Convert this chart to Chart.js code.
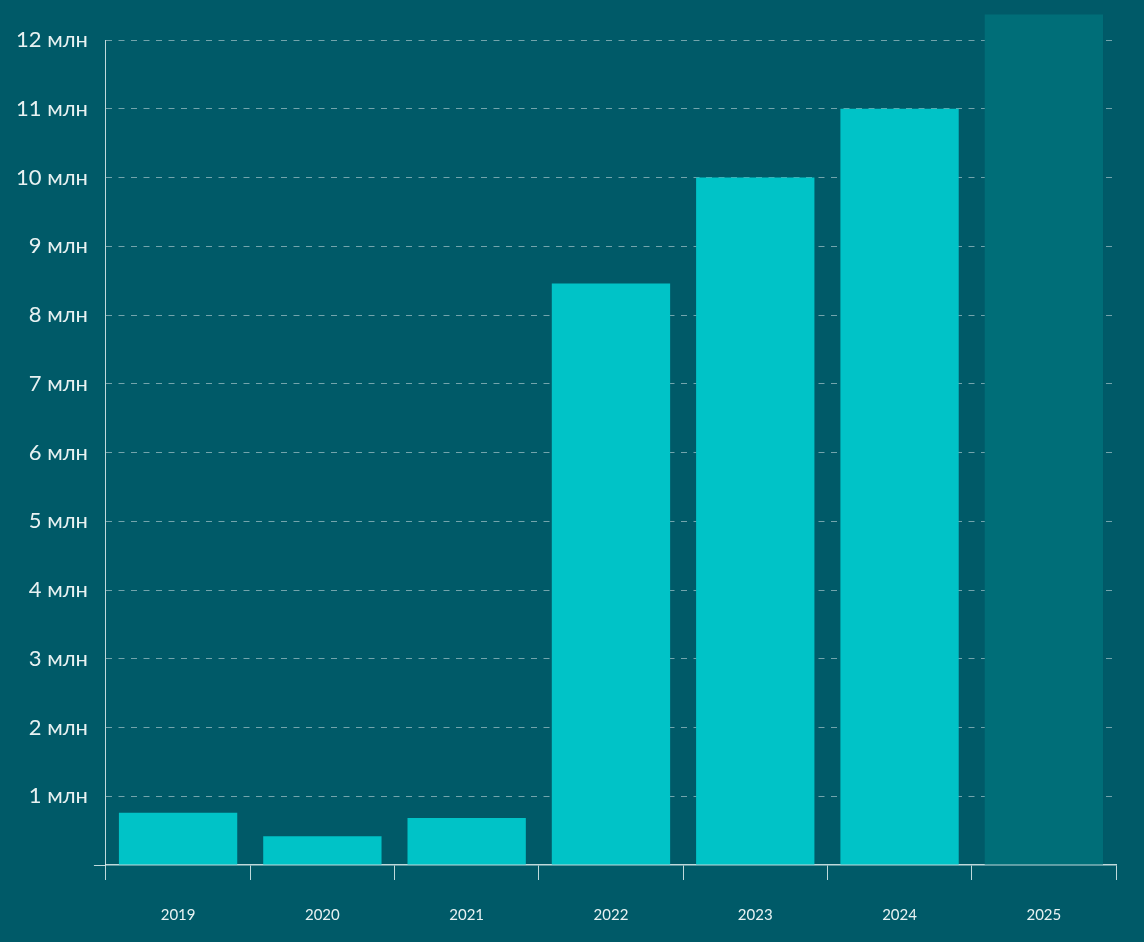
<!DOCTYPE html>
<html>
<head>
<meta charset="utf-8">
<script src="https://cdn.jsdelivr.net/npm/chart.js@4/dist/chart.umd.min.js"></script>
<style>
html,body{margin:0;padding:0;background:#005a68;}
#wrap{width:1144px;height:942px;position:relative;}
</style>
</head>
<body>
<div id="wrap"><canvas id="c" width="1144" height="942"></canvas></div>
<script>
const years = ['2019','2020','2021','2022','2023','2024','2025'];
const valuesMln = [0.76, 0.42, 0.685, 8.46, 10.0, 11.0, 12.37];
const barColors = ['#00c3c7','#00c3c7','#00c3c7','#00c3c7','#00c3c7','#00c3c7','#006e78'];
const yTickValues = [0,1,2,3,4,5,6,7,8,9,10,11,12];
const unit = ' млн';

const axisColor = 'rgba(225,240,240,0.85)';
const gridColor = 'rgba(255,255,255,0.45)';
const textColor = '#e8f2f2';

new Chart(document.getElementById('c'), {
  type: 'bar',
  data: {
    labels: years,
    datasets: [{
      data: valuesMln,
      backgroundColor: barColors,
      borderWidth: 0,
      barPercentage: 0.82,
      categoryPercentage: 1.0,
      clip: false
    }]
  },
  options: {
    responsive: false,
    animation: false,
    devicePixelRatio: 1,
    layout: { padding: { top: 40, right: 28, bottom: -8, left: 10 } },
    plugins: { legend: { display: false }, tooltip: { enabled: false } },
    scales: {
      x: {
        offset: true,
        grid: {
          offset: true,
          drawOnChartArea: false,
          drawTicks: true,
          tickLength: 15,
          tickColor: axisColor,
          color: axisColor
        },
        border: { display: true, color: axisColor, width: 1.5 },
        ticks: {
          color: textColor,
          font: { family: 'Lato', size: 15 },
          padding: 26
        }
      },
      y: {
        min: 0,
        max: 12,
        z: 1,
        afterBuildTicks: (scale) => { scale.ticks = yTickValues.map(v => ({ value: v })); },
        grid: {
          color: (ctx) => ctx.tick && ctx.tick.value === 0 ? 'transparent' : gridColor,
          tickColor: (ctx) => ctx.tick && ctx.tick.value === 0 ? axisColor : 'transparent',
          tickLength: 12,
          lineWidth: 1
        },
        border: { display: true, color: axisColor, width: 1, dash: [6, 6.5] },
        ticks: {
          color: textColor,
          font: { family: 'Lato', size: 22 },
          padding: 6,
          callback: (v) => v === 0 ? '' : v + unit
        }
      }
    }
  }
});
</script>
</body>
</html>
